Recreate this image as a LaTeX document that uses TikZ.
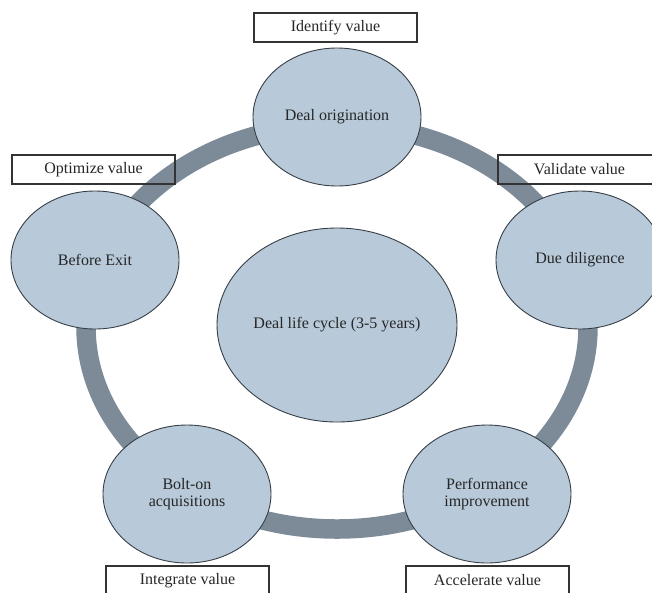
\documentclass[tikz,border=0pt]{standalone}
\usepackage{fontspec}
\setmainfont{Liberation Serif}
\usetikzlibrary{shapes.geometric}
\definecolor{azzurro}{RGB}{184,202,218}
\definecolor{ardesia}{RGB}{125,139,153}
\definecolor{bordo}{RGB}{55,62,70}
\begin{document}
\begin{tikzpicture}[
    x=1pt,y=-1pt,
    font=\fontsize{16}{17}\selectfont,
    fase/.style={ellipse,draw=bordo,fill=azzurro,line width=0.9pt,inner sep=0pt,
                 minimum width=168pt,minimum height=138pt,align=center,text=black!85},
    anello/.style={draw=ardesia,line width=19.5pt},
    riquadro/.style={draw=black!80,line width=1.1pt,inner sep=0pt,
                     minimum width=163pt,minimum height=29pt,text=black!85}]

  \clip (0,0) rectangle (652,592);

  % ---- anello del ciclo, sotto a tutto --------------------------------------
  \draw[anello] (337,327) ellipse [x radius=251,y radius=202];

  % ---- fasi del ciclo ---------------------------------------------------------
  \node[fase] (origine)    at (337,117) {Deal origination};
  \node[fase] (diligenza)  at (580,260) {Due diligence};
  \node[fase] (uscita)     at (95,260)  {Before Exit};
  \node[fase] (bolton)     at (187,494) {Bolt-on\\acquisitions};
  \node[fase] (prestazioni) at (487,494) {Performance\\improvement};

  % cerchio centrale
  \node[fase,minimum width=240pt,minimum height=194pt] (ciclo) at (337,325)
    {Deal life cycle (3-5 years)};

  % ---- riquadri del valore ----------------------------------------------------
  \node[riquadro] (identifica) at (335.5,27.5)  {Identify value};
  \node[riquadro] (ottimizza)  at (93.5,169.5)  {Optimize value};
  \node[riquadro] (convalida)  at (579.5,169.5) {Validate value};
  \node[riquadro] (integra)    at (187.5,580.5) {Integrate value};
  \node[riquadro] (accelera)   at (487.5,580.5) {Accelerate value};

\end{tikzpicture}
\end{document}
